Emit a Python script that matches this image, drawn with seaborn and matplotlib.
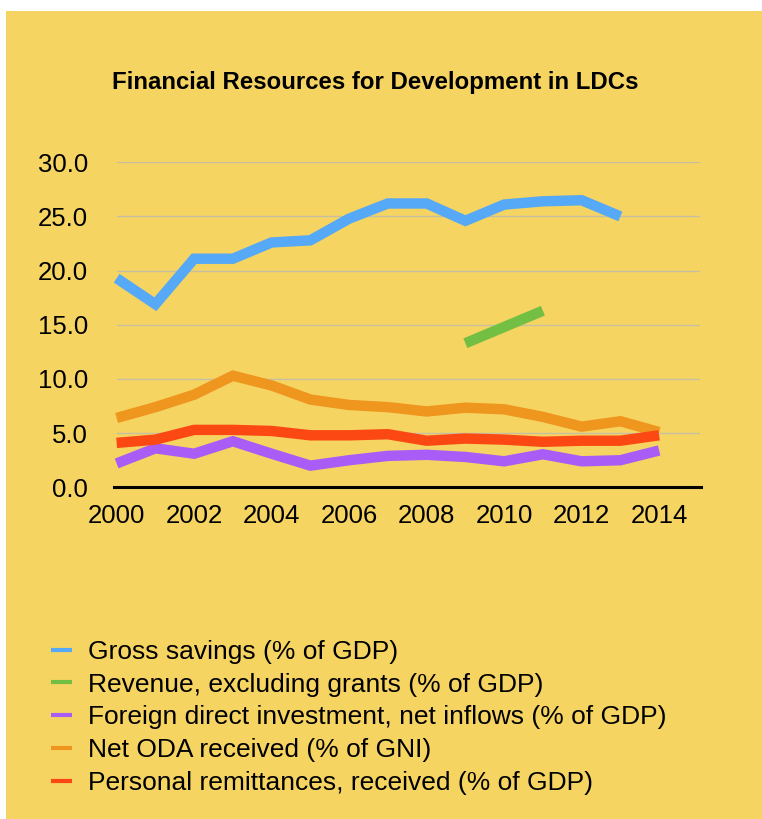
import numpy as np
import pandas as pd
import matplotlib
matplotlib.use("Agg")
import matplotlib.pyplot as plt
from matplotlib.patches import Rectangle
from matplotlib.lines import Line2D
import seaborn as sns

years = list(range(2000, 2015))
gross_savings = [19.3, 16.9, 21.1, 21.1, 22.6, 22.8, 24.8, 26.2, 26.2, 24.6, 26.1, 26.4, 26.5, 25.0, np.nan]
revenue = [np.nan] * 9 + [13.3, 14.8, 16.3] + [np.nan] * 3
fdi = [2.2, 3.6, 3.1, 4.25, 3.1, 2.0, 2.5, 2.9, 3.0, 2.8, 2.4, 3.05, 2.4, 2.5, 3.4]
oda = [6.4, 7.4, 8.55, 10.3, 9.4, 8.1, 7.6, 7.4, 7.0, 7.35, 7.2, 6.5, 5.6, 6.1, 5.1]
remit = [4.1, 4.4, 5.3, 5.3, 5.2, 4.8, 4.8, 4.9, 4.3, 4.5, 4.4, 4.2, 4.3, 4.3, 4.8]

series_names = [
    "Gross savings (% of GDP)",
    "Revenue, excluding grants (% of GDP)",
    "Foreign direct investment, net inflows (% of GDP)",
    "Net ODA received (% of GNI)",
    "Personal remittances, received (% of GDP)",
]
series_values = [gross_savings, revenue, fdi, oda, remit]
colors = ["#55A9F6", "#73BF43", "#A95DF6", "#EE961E", "#FC4914"]
y_ticks = [0, 5, 10, 15, 20, 25, 30]
x_ticks = [2000, 2002, 2004, 2006, 2008, 2010, 2012, 2014]
title = "Financial Resources for Development in LDCs"

rows = []
for name, vals in zip(series_names, series_values):
    for yr, v in zip(years, vals):
        rows.append({"Year": yr, "Value": v, "Series": name})
df = pd.DataFrame(rows).dropna()

BG = "#F6D462"
W, H = 762, 819
sns.set_theme(style="white")
plt.rcParams["font.family"] = ["Liberation Sans", "DejaVu Sans"]

fig = plt.figure(figsize=(W / 100, H / 100), dpi=100)
fig.patch.set_facecolor("white")
fig.add_artist(Rectangle((6 / W, 0), 1 - 6 / W + 0.01, 1 - 11 / H, transform=fig.transFigure,
                         facecolor=BG, edgecolor="none", zorder=-10))

left, right, bottom, top = 114.3 / W, 701 / W, 1 - 487.3 / H, 1 - 162.3 / H
ax = fig.add_axes([left, bottom, right - left, top - bottom])
ax.set_facecolor("none")

sns.lineplot(data=df, x="Year", y="Value", hue="Series", hue_order=series_names,
             palette=colors, linewidth=7.5, ax=ax, legend=False, sort=False)
for ln in ax.get_lines():
    ln.set_solid_capstyle("butt")
    ln.set_solid_joinstyle("miter")

ax.set_xlim(1999.94, 2015.08)
ax.set_ylim(0, 30)
ax.set_yticks(y_ticks)
ax.set_yticklabels([f"{v:.1f}" for v in y_ticks])
ax.set_xticks(x_ticks)
ax.set_xticklabels([str(v) for v in x_ticks])
ax.tick_params(axis="y", length=0, pad=19, labelsize=18.5, labelcolor="black")
ax.tick_params(axis="x", length=0, pad=12, labelsize=18.5, labelcolor="black")
ax.set_xlabel("")
ax.set_ylabel("")
for y in y_ticks[1:]:
    ax.axhline(y, xmin=(2000 - 1999.94) / (2015.08 - 1999.94), xmax=0.997,
               color="#C6BFA2", linewidth=1.0, zorder=0)
for s in ["top", "right", "left"]:
    ax.spines[s].set_visible(False)
ax.spines["bottom"].set_color("black")
ax.spines["bottom"].set_linewidth(2.2)
ax.spines["bottom"].set_zorder(5)

fig.text(375 / W, 1 - 82 / H, title, ha="center", va="center",
         fontsize=17.3, fontweight="bold", color="black")

handles = [Line2D([0], [0], color=c, linewidth=3, solid_capstyle="butt") for c in colors]
leg = fig.legend(handles, series_names, loc="upper left",
                 bbox_to_anchor=(51 / W, 1 - 640 / H), frameon=False,
                 fontsize=19, handlelength=0.8, handletextpad=0.62,
                 labelspacing=0.33, borderpad=0, borderaxespad=0)
for t in leg.get_texts():
    t.set_color("black")

fig.savefig("out.png", dpi=100, facecolor=fig.get_facecolor())
